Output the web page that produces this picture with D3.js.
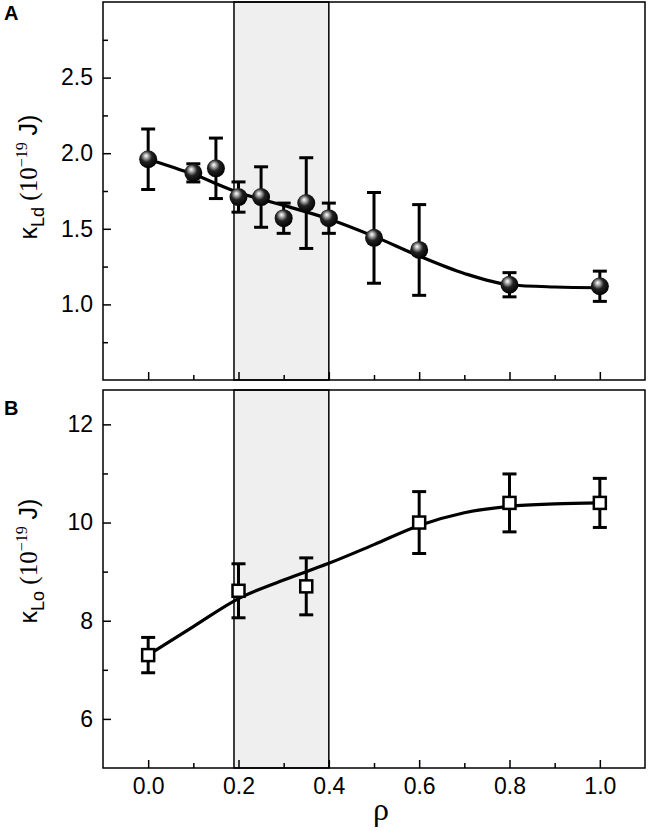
<!DOCTYPE html>
<html>
<head>
<meta charset="utf-8">
<script src="https://cdn.jsdelivr.net/npm/d3@7"></script>
<style>
  body { margin: 0; background: #fff; }
  svg { display: block; }
</style>
</head>
<body>
<svg id="chart"></svg>
<script>
var w = 650;
var h = 831;

// panel A: kappa_Ld
var rhoA = [0, 0.1, 0.15, 0.2, 0.25, 0.3, 0.35, 0.4, 0.5, 0.6, 0.8, 1.0];
var kLd = [1.96, 1.87, 1.90, 1.71, 1.71, 1.57, 1.67, 1.57, 1.44, 1.36, 1.13, 1.12];
var kLdErr = [0.20, 0.06, 0.20, 0.10, 0.20, 0.10, 0.30, 0.10, 0.30, 0.30, 0.08, 0.10];
var fitRhoA = [0, 0.1, 0.2, 0.3, 0.4, 0.5, 0.6, 0.7, 0.8, 0.9, 1.0];
var fitLd = [1.96, 1.86, 1.74, 1.655, 1.565, 1.45, 1.32, 1.205, 1.13, 1.115, 1.11];

// panel B: kappa_Lo
var rhoB = [0, 0.2, 0.35, 0.6, 0.8, 1.0];
var kLo = [7.30, 8.61, 8.70, 10.0, 10.40, 10.40];
var kLoErr = [0.36, 0.55, 0.58, 0.63, 0.59, 0.50];
var fitRhoB = [0, 0.1, 0.2, 0.3, 0.4, 0.5, 0.6, 0.7, 0.8, 0.9, 1.0];
var fitLo = [7.30, 7.88, 8.45, 8.83, 9.17, 9.55, 9.94, 10.2, 10.33, 10.38, 10.40];

var shadeRange = [0.19, 0.40];
var xTicks = [0, 0.2, 0.4, 0.6, 0.8, 1.0];
var xMinor = [0.1, 0.3, 0.5, 0.7, 0.9];
var yTicksA = [1.0, 1.5, 2.0, 2.5];
var yMinorA = [0.75, 1.25, 1.75, 2.25, 2.75];
var yTicksB = [6, 8, 10, 12];
var yMinorB = [7, 9, 11];

var svg = d3.select('#chart').attr('width', w).attr('height', h);

var defs = svg.append('defs');
var grad = defs.append('radialGradient')
  .attr('id', 'ball')
  .attr('cx', '0.42').attr('cy', '0.4').attr('r', '0.62')
  .attr('fx', '0.38').attr('fy', '0.3');
grad.append('stop').attr('offset', '0').attr('stop-color', '#ffffff');
grad.append('stop').attr('offset', '0.18').attr('stop-color', '#b8b8b8');
grad.append('stop').attr('offset', '0.5').attr('stop-color', '#222');
grad.append('stop').attr('offset', '1').attr('stop-color', '#000');

var x = d3.scaleLinear().domain([-0.1, 1.1]).range([103, 645]);

function panel(opts) {
  var y = opts.y;
  var g = svg.append('g');
  var x0 = x.range()[0], x1 = x.range()[1];
  var yb = y.range()[0], yt = y.range()[1];

  // shaded band
  g.append('rect')
    .attr('x', x(shadeRange[0]))
    .attr('y', yt)
    .attr('width', x(shadeRange[1]) - x(shadeRange[0]))
    .attr('height', yb - yt)
    .attr('fill', '#efefef')
    .attr('stroke', '#000')
    .attr('stroke-width', 1.5);

  // axes with inward ticks
  var yAxis = d3.axisLeft(y).tickValues(opts.yTicks).tickSize(-8).tickPadding(10)
    .tickFormat(opts.fmt);
  g.append('g').attr('transform', 'translate(' + x0 + ',0)').call(yAxis);
  var yAxisMinor = d3.axisLeft(y).tickValues(opts.yMinor).tickSize(-5).tickFormat('');
  g.append('g').attr('transform', 'translate(' + x0 + ',0)').call(yAxisMinor);

  var xAxis = d3.axisBottom(x).tickValues(xTicks).tickSize(-8).tickPadding(10)
    .tickFormat(opts.xLabels ? d3.format('.1f') : '');
  g.append('g').attr('transform', 'translate(0,' + yb + ')').call(xAxis);
  var xAxisMinor = d3.axisBottom(x).tickValues(xMinor).tickSize(-5).tickFormat('');
  g.append('g').attr('transform', 'translate(0,' + yb + ')').call(xAxisMinor);

  g.selectAll('.domain').remove();
  g.selectAll('.tick line').attr('stroke', '#000').attr('stroke-width', 1.5);
  g.selectAll('.tick text')
    .attr('fill', '#000')
    .style('font-family', '"Liberation Sans", Arial, sans-serif')
    .style('font-size', '23px');

  // fit curve
  var line = d3.line()
    .x(function (d) { return x(d[0]); })
    .y(function (d) { return y(d[1]); })
    .curve(d3.curveMonotoneX);
  g.append('path')
    .datum(d3.zip(opts.fitX, opts.fitY))
    .attr('d', line)
    .attr('fill', 'none')
    .attr('stroke', '#000')
    .attr('stroke-width', 3.2);

  // error bars
  var pts = opts.xs.map(function (v, i) {
    return { x: v, y: opts.ys[i], e: opts.errs[i] };
  });
  var eb = g.selectAll('.eb').data(pts).enter().append('g')
    .attr('stroke', '#000').attr('stroke-width', 3);
  eb.append('line')
    .attr('x1', function (d) { return x(d.x); })
    .attr('x2', function (d) { return x(d.x); })
    .attr('y1', function (d) { return y(d.y - d.e); })
    .attr('y2', function (d) { return y(d.y + d.e); });
  eb.append('line')
    .attr('x1', function (d) { return x(d.x) - 7; })
    .attr('x2', function (d) { return x(d.x) + 7; })
    .attr('y1', function (d) { return y(d.y + d.e); })
    .attr('y2', function (d) { return y(d.y + d.e); });
  eb.append('line')
    .attr('x1', function (d) { return x(d.x) - 7; })
    .attr('x2', function (d) { return x(d.x) + 7; })
    .attr('y1', function (d) { return y(d.y - d.e); })
    .attr('y2', function (d) { return y(d.y - d.e); });

  // markers
  if (opts.marker === 'ball') {
    g.selectAll('.pt').data(pts).enter().append('circle')
      .attr('cx', function (d) { return x(d.x); })
      .attr('cy', function (d) { return y(d.y); })
      .attr('r', 9)
      .attr('fill', 'url(#ball)');
  } else {
    g.selectAll('.pt').data(pts).enter().append('rect')
      .attr('x', function (d) { return x(d.x) - 6; })
      .attr('y', function (d) { return y(d.y) - 6; })
      .attr('width', 12)
      .attr('height', 12)
      .attr('fill', '#fff')
      .attr('stroke', '#000')
      .attr('stroke-width', 2.5);
  }

  // frame
  g.append('rect')
    .attr('x', x0).attr('y', yt)
    .attr('width', x1 - x0).attr('height', yb - yt)
    .attr('fill', 'none')
    .attr('stroke', '#000')
    .attr('stroke-width', 1.5);

  // panel letter
  svg.append('text')
    .attr('x', 4).attr('y', opts.letterY)
    .text(opts.letter)
    .style('font-family', '"Liberation Sans", Arial, sans-serif')
    .style('font-weight', 'bold')
    .style('font-size', '20px');

  // y label
  var lab = svg.append('text')
    .attr('transform', 'translate(37,' + opts.labelY + ') rotate(-90)')
    .attr('text-anchor', 'middle')
    .style('font-size', '25px')
    .style('font-family', '"Liberation Sans", Arial, sans-serif');
  lab.append('tspan').text('κ');
  lab.append('tspan').attr('dy', 7).style('font-size', '18px').text(opts.sub);
  lab.append('tspan').attr('dy', -7).style('font-family', '"Liberation Serif", serif').text(' (10');
  lab.append('tspan').attr('dy', -10).style('font-family', '"Liberation Serif", serif')
    .style('font-size', '16px').text('−19');
  lab.append('tspan').attr('dy', 10).text(' J)');
}

panel({
  y: d3.scaleLinear().domain([0.5, 3.0]).range([380, 2]),
  yTicks: yTicksA, yMinor: yMinorA, fmt: d3.format('.1f'),
  xLabels: false,
  xs: rhoA, ys: kLd, errs: kLdErr,
  fitX: fitRhoA, fitY: fitLd,
  marker: 'ball', letter: 'A', letterY: 20, sub: 'Ld', labelY: 177
});

panel({
  y: d3.scaleLinear().domain([5, 12.7]).range([768, 390]),
  yTicks: yTicksB, yMinor: yMinorB, fmt: d3.format('d'),
  xLabels: true,
  xs: rhoB, ys: kLo, errs: kLoErr,
  fitX: fitRhoB, fitY: fitLo,
  marker: 'square', letter: 'B', letterY: 415, sub: 'Lo', labelY: 561
});

svg.append('text')
  .attr('x', 381).attr('y', 820)
  .attr('text-anchor', 'middle')
  .style('font-family', '"Liberation Serif", "Times New Roman", serif')
  .style('font-size', '32px')
  .text('ρ');
</script>
</body>
</html>
